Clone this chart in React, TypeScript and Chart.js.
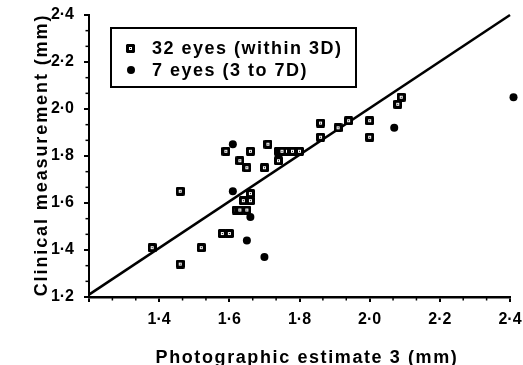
import React, { useEffect, useRef } from "react";
import { Chart, registerables } from "chart.js";

Chart.register(...registerables);

// Eyes whose refraction was within 3 dioptres
const within3DX = [1.38, 1.46, 1.46, 1.52, 1.58, 1.6, 1.62, 1.63, 1.65, 1.64, 1.66, 1.66, 1.59, 1.63, 1.65, 1.66, 1.71, 1.7, 1.74, 1.74, 1.76, 1.78, 1.8, 1.75, 1.86, 1.86, 1.91, 1.94, 2.0, 2.0, 2.09, 2.08];
const within3DY = [1.41, 1.34, 1.65, 1.41, 1.47, 1.47, 1.57, 1.57, 1.57, 1.61, 1.61, 1.64, 1.82, 1.78, 1.75, 1.82, 1.85, 1.75, 1.78, 1.82, 1.82, 1.82, 1.82, 1.82, 1.94, 1.88, 1.92, 1.95, 1.95, 1.88, 2.05, 2.02];

// Eyes with 3 to 7 dioptres
const from3to7DX = [1.61, 1.61, 1.66, 1.65, 1.7, 2.07, 2.41];
const from3to7DY = [1.85, 1.65, 1.54, 1.44, 1.37, 1.92, 2.05];

// Fitted line end points
const fitX = [1.2, 2.4];
const fitY = [1.21, 2.4];

const axisMin = 1.2;
const axisMax = 2.4;
const majorTicks = [1.2, 1.4, 1.6, 1.8, 2.0, 2.2, 2.4];
const minorStep = 0.2 / 3;

const legendLabels = ["32 eyes (within 3D)", "7 eyes (3 to 7D)"];
const xTitle = "Photographic estimate 3 (mm)";
const yTitle = "Clinical measurement (mm)";

const FONT = '"Liberation Sans", Arial, Helvetica, sans-serif';

const fmt = (v: number) => v.toFixed(1).replace(".", "\u00B7");

function makeSquareMarker(): HTMLCanvasElement {
  const c = document.createElement("canvas");
  c.width = 9;
  c.height = 9;
  const g = c.getContext("2d")!;
  g.fillStyle = "#000";
  g.beginPath();
  g.moveTo(1, 0);
  g.lineTo(8, 0);
  g.lineTo(9, 1);
  g.lineTo(9, 8);
  g.lineTo(8, 9);
  g.lineTo(1, 9);
  g.lineTo(0, 8);
  g.lineTo(0, 1);
  g.closePath();
  g.fill();
  g.fillStyle = "#fff";
  g.fillRect(3, 3, 3, 3);
  g.fillStyle = "#000";
  g.fillRect(4, 4, 1, 1);
  return c;
}

export default function App() {
  const ref = useRef<HTMLCanvasElement | null>(null);

  useEffect(() => {
    document.body.style.margin = "0";
    const canvas = ref.current;
    if (!canvas) return;
    const square = makeSquareMarker();

    const overlay = {
      id: "overlay",
      afterDraw(chart: any) {
        const ctx = chart.ctx as CanvasRenderingContext2D;
        const xs = chart.scales.x;
        const ys = chart.scales.y;
        const area = chart.chartArea;
        ctx.save();
        ctx.strokeStyle = "#000";
        ctx.fillStyle = "#000";

        // minor tick marks
        ctx.lineWidth = 1.5;
        for (let k = 0; k <= 18; k++) {
          const v = axisMin + k * minorStep;
          if (k % 3 === 0) continue;
          const px = xs.getPixelForValue(v);
          ctx.beginPath();
          ctx.moveTo(px, area.bottom);
          ctx.lineTo(px, area.bottom + 3.5);
          ctx.stroke();
          const py = ys.getPixelForValue(v);
          ctx.beginPath();
          ctx.moveTo(area.left, py);
          ctx.lineTo(area.left - 3.5, py);
          ctx.stroke();
        }

        // legend
        const lx = 111;
        const ly = 28;
        ctx.lineWidth = 2;
        ctx.strokeRect(lx, ly, 245, 59);
        ctx.drawImage(square, lx + 15, ly + 16);
        ctx.beginPath();
        ctx.arc(lx + 20, ly + 42, 4, 0, Math.PI * 2);
        ctx.fill();
        (ctx as any).letterSpacing = "1.5px";
        ctx.font = `bold 18px ${FONT}`;
        ctx.textAlign = "left";
        ctx.textBaseline = "middle";
        ctx.fillText(legendLabels[0], lx + 41, ly + 21);
        ctx.fillText(legendLabels[1], lx + 41, ly + 43);

        // axis titles
        (ctx as any).letterSpacing = "1.6px";
        ctx.textAlign = "center";
        ctx.textBaseline = "alphabetic";
        ctx.fillText(xTitle, 307, 363);

        (ctx as any).letterSpacing = "1.9px";
        ctx.translate(47, 155);
        ctx.rotate(-Math.PI / 2);
        ctx.fillText(yTitle, 0, 0);
        ctx.restore();
      },
    };

    const tickFont = { family: FONT, size: 16, weight: "bold" as const };

    const chart = new Chart(canvas, {
      type: "scatter",
      data: {
        datasets: [
          {
            label: legendLabels[0],
            data: within3DX.map((x, i) => ({ x, y: within3DY[i] })),
            pointStyle: square as any,
            pointRadius: 4.5,
            backgroundColor: "#000",
            borderColor: "#000",
            clip: false as any,
            order: 1,
          },
          {
            label: legendLabels[1],
            data: from3to7DX.map((x, i) => ({ x, y: from3to7DY[i] })),
            pointStyle: "circle",
            pointRadius: 4,
            borderWidth: 0,
            backgroundColor: "#000",
            borderColor: "#000",
            clip: false as any,
            order: 2,
          },
          {
            label: "fit",
            data: fitX.map((x, i) => ({ x, y: fitY[i] })),
            showLine: true,
            pointRadius: 0,
            borderColor: "#000",
            borderWidth: 2.5,
            clip: false as any,
            order: 3,
          },
        ],
      },
      options: {
        responsive: false,
        animation: false,
        layout: { padding: { top: 15, right: 13, left: 0, bottom: 0 } },
        plugins: { legend: { display: false }, tooltip: { enabled: false } },
        scales: {
          x: {
            type: "linear",
            min: axisMin,
            max: axisMax,
            afterBuildTicks: (s: any) => {
              s.ticks = majorTicks.map((v) => ({ value: v }));
            },
            afterFit: (s: any) => {
              s.height = 68;
              s.paddingLeft = 0;
              s.paddingRight = 0;
            },
            ticks: {
              callback: (v: any) => (Math.abs(v - axisMin) < 1e-6 ? "" : fmt(v)),
              font: tickFont,
              color: "#000",
              padding: 8,
              maxRotation: 0,
              autoSkip: false,
            },
            grid: { drawOnChartArea: false, tickLength: 5, color: "#000", lineWidth: 2 },
            border: { display: true, color: "#000", width: 2.5 },
          },
          y: {
            type: "linear",
            min: axisMin,
            max: axisMax,
            afterBuildTicks: (s: any) => {
              s.ticks = majorTicks.map((v) => ({ value: v }));
            },
            afterFit: (s: any) => {
              s.width = 89;
              s.paddingTop = 0;
              s.paddingBottom = 0;
            },
            ticks: {
              callback: (v: any) => fmt(v),
              font: tickFont,
              color: "#000",
              padding: 10,
              autoSkip: false,
            },
            grid: { drawOnChartArea: false, tickLength: 5, color: "#000", lineWidth: 2 },
            border: { display: true, color: "#000", width: 2 },
          },
        },
      },
      plugins: [overlay],
    });

    return () => chart.destroy();
  }, []);

  return (
    <div style={{ width: 523, height: 365, background: "#fff" }}>
      <canvas ref={ref} width={523} height={365} style={{ display: "block" }} />
    </div>
  );
}
